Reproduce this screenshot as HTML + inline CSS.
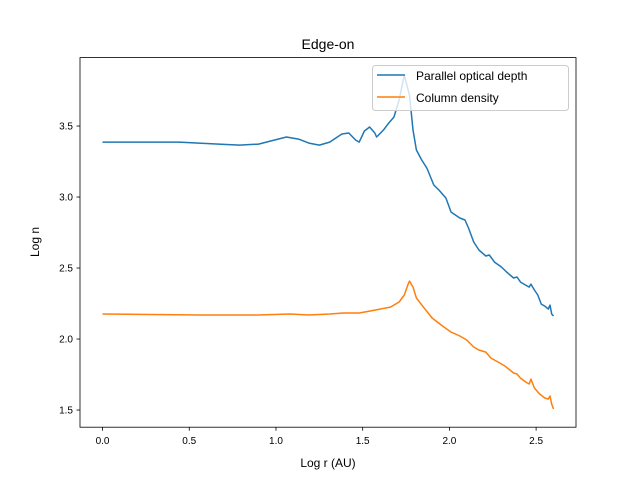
<!DOCTYPE html>
<html><head><meta charset="utf-8"><style>
body{margin:0;background:#fff;}
svg{display:block;font-family:"Liberation Sans","DejaVu Sans",sans-serif;}
</style></head><body>
<svg id="chart" width="640" height="480">
<rect width="640" height="480" fill="#fff"/>
<text x="328" y="49" text-anchor="middle" font-size="14">Edge-on</text>
<g id="plot"></g>
<g id="axes"></g>
<text x="328" y="467" text-anchor="middle" font-size="12">Log r (AU)</text>
<text transform="translate(39,242) rotate(-90)" text-anchor="middle" font-size="12">Log n</text>
<g>
<rect x="372.5" y="65.5" width="196" height="45" rx="3" fill="#fff" fill-opacity="0.8" stroke="#ccc"/>
<line x1="377" y1="75" x2="405" y2="75" stroke="#1f77b4" stroke-width="1.5"/>
<text x="416" y="80" font-size="12">Parallel optical depth</text>
<line x1="377" y1="97" x2="405" y2="97" stroke="#ff7f0e" stroke-width="1.5"/>
<text x="416" y="102" font-size="12">Column density</text>
</g>
</svg>
<script>
const blueX=[0,0.27,0.44,0.67,0.79,0.90,0.99,1.06,1.13,1.19,1.25,1.31,1.38,1.42,1.46,1.48,1.51,1.54,1.57,1.58,1.62,1.65,1.68,1.71,1.74,1.77,1.79,1.81,1.84,1.87,1.91,1.94,1.98,2.01,2.06,2.09,2.11,2.14,2.17,2.21,2.23,2.26,2.30,2.33,2.37,2.39,2.41,2.44,2.46,2.47,2.49,2.51,2.53,2.55,2.57,2.58,2.59,2.60];
const blueY=[3.387,3.387,3.387,3.373,3.366,3.373,3.401,3.423,3.408,3.380,3.366,3.387,3.444,3.451,3.401,3.387,3.465,3.493,3.451,3.423,3.472,3.521,3.563,3.683,3.859,3.718,3.472,3.331,3.261,3.204,3.085,3.049,2.993,2.894,2.852,2.838,2.782,2.683,2.627,2.585,2.592,2.542,2.507,2.472,2.430,2.437,2.401,2.380,2.366,2.387,2.345,2.310,2.246,2.232,2.211,2.239,2.176,2.162];
const orangeX=[0,0.56,0.90,1.08,1.19,1.31,1.39,1.48,1.54,1.60,1.66,1.71,1.74,1.76,1.77,1.79,1.81,1.85,1.90,1.93,1.96,2.01,2.06,2.10,2.14,2.17,2.21,2.24,2.28,2.32,2.37,2.39,2.41,2.44,2.46,2.47,2.49,2.52,2.55,2.57,2.58,2.59,2.60];
const orangeY=[2.176,2.169,2.169,2.176,2.169,2.176,2.183,2.183,2.197,2.211,2.225,2.261,2.310,2.380,2.408,2.366,2.289,2.225,2.148,2.120,2.092,2.049,2.021,1.993,1.944,1.923,1.908,1.866,1.838,1.810,1.761,1.754,1.725,1.697,1.683,1.718,1.655,1.613,1.585,1.577,1.599,1.542,1.507];
const xTicks=[0,0.5,1,1.5,2,2.5];
const xTickLabels=["0.0","0.5","1.0","1.5","2.0","2.5"];
const yTicks=[1.5,2,2.5,3,3.5];
const yTickLabels=["1.5","2.0","2.5","3.0","3.5"];
const L=80,R=576,T=57.6,B=427.2,xmin=-0.13,xmax=2.73,ymin=1.379,ymax=3.982;
const sx=v=>L+(v-xmin)/(xmax-xmin)*(R-L);
const sy=v=>B-(v-ymin)/(ymax-ymin)*(B-T);
const NS="http://www.w3.org/2000/svg";
const plot=document.getElementById('plot'),axes=document.getElementById('axes');
function line(xs,ys,color,name){
  const p=document.createElementNS(NS,'polyline');
  p.setAttribute('points',xs.map((x,i)=>sx(x).toFixed(1)+','+sy(ys[i]).toFixed(1)).join(' '));
  p.setAttribute('fill','none');p.setAttribute('stroke',color);p.setAttribute('stroke-width','1.5');
  p.setAttribute('stroke-linejoin','round');
  
  
  plot.appendChild(p);
}
line(blueX,blueY,'#1f77b4','parallel-optical-depth-line');
line(orangeX,orangeY,'#ff7f0e','column-density-line');
const frame=document.createElementNS(NS,'rect');
frame.setAttribute('x',L);frame.setAttribute('y',T);frame.setAttribute('width',R-L);frame.setAttribute('height',B-T);
frame.setAttribute('fill','none');frame.setAttribute('stroke','#000');frame.setAttribute('stroke-width','0.8');


axes.appendChild(frame);
xTicks.forEach((v,i)=>{
  const x=sx(v);
  const t=document.createElementNS(NS,'line');
  t.setAttribute('x1',x);t.setAttribute('x2',x);t.setAttribute('y1',B);t.setAttribute('y2',B+3.5);t.setAttribute('stroke','#000');t.setAttribute('stroke-width','0.8');
  
  
  axes.appendChild(t);
  const l=document.createElementNS(NS,'text');
  l.setAttribute('x',x);l.setAttribute('y',B+17);l.setAttribute('text-anchor','middle');l.setAttribute('font-size','10');
  l.textContent=xTickLabels[i];
  
  
  axes.appendChild(l);
});
yTicks.forEach((v,i)=>{
  const y=sy(v);
  const t=document.createElementNS(NS,'line');
  t.setAttribute('x1',L-3.5);t.setAttribute('x2',L);t.setAttribute('y1',y);t.setAttribute('y2',y);t.setAttribute('stroke','#000');t.setAttribute('stroke-width','0.8');
  
  
  axes.appendChild(t);
  const l=document.createElementNS(NS,'text');
  l.setAttribute('x',L-7);l.setAttribute('y',y+3.5);l.setAttribute('text-anchor','end');l.setAttribute('font-size','10');
  l.textContent=yTickLabels[i];
  
  
  axes.appendChild(l);
});
</script>
</body></html>
